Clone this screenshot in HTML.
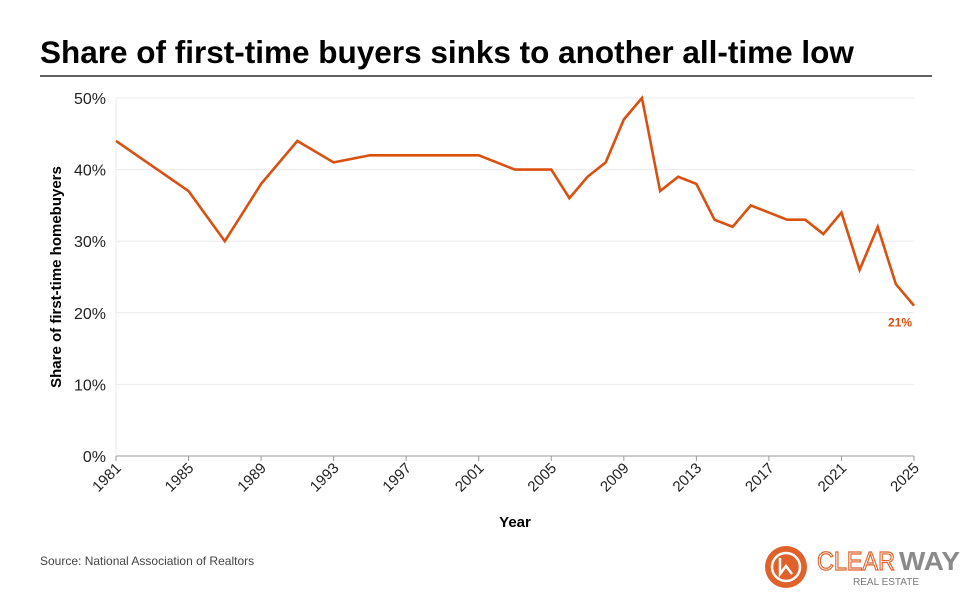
<!DOCTYPE html>
<html><head><meta charset="utf-8"><style>
body{margin:0;background:#fff;font-family:"Liberation Sans",Arial,sans-serif;}
#wrap{position:relative;width:972px;height:595px;overflow:hidden;}
</style></head><body>
<div id="wrap">
<svg id="chart" width="972" height="595" xmlns="http://www.w3.org/2000/svg">
<text x="40" y="63" font-size="31.5" font-weight="bold" fill="#000">Share of first-time buyers sinks to another all-time low</text>
<line x1="40" y1="76" x2="932" y2="76" stroke="#000" stroke-width="1.2"/>
<g id="grid"></g><g id="xaxis"></g><g id="series"></g>
<text transform="translate(61,277) rotate(-90)" text-anchor="middle" font-size="15" font-weight="bold">Share of first-time homebuyers</text>
<text x="515" y="527" text-anchor="middle" font-size="15" font-weight="bold">Year</text>
<text x="40" y="565" font-size="12" fill="#444">Source: National Association of Realtors</text>
<g>
<circle cx="786" cy="567" r="21" fill="#e0622a"/>
<circle cx="786" cy="567" r="14" fill="none" stroke="#fff" stroke-width="2.5"/>
<path d="M780 558 L780 574 L786 566 L792 574" fill="none" stroke="#fff" stroke-width="2.5"/>
<text x="817" y="570" font-size="26" fill="none" stroke="#e0622a" stroke-width="1.2" textLength="78" lengthAdjust="spacingAndGlyphs">CLEAR</text>
<text x="899" y="570" font-size="26" font-weight="bold" fill="#8a8a8a" textLength="61" lengthAdjust="spacingAndGlyphs">WAY</text>
<text x="853" y="585" font-size="10" fill="#777" textLength="66" lengthAdjust="spacing">REAL ESTATE</text>
</g>
</svg>
</div>
<script>
const years=[1981,1985,1987,1989,1991,1993,1995,1997,1999,2001,2003,2005,2006,2007,2008,2009,2010,2011,2012,2013,2014,2015,2016,2017,2018,2019,2020,2021,2022,2023,2024,2025];
const shares=[44,37,30,38,44,41,42,42,42,42,40,40,36,39,41,47,50,37,39,38,33,32,35,34,33,33,31,34,26,32,24,21];
const yTicks=[0,10,20,30,40,50];
const xTicks=[1981,1985,1989,1993,1997,2001,2005,2009,2013,2017,2021,2025];
const NS="http://www.w3.org/2000/svg";
const x=v=>116+(v-1981)*(914-116)/44;
const y=v=>456-v*(456-98)/50;
function mk(tag,attrs,parent){const e=document.createElementNS(NS,tag);for(const k in attrs)e.setAttribute(k,attrs[k]);parent.appendChild(e);return e;}
const grid=document.getElementById('grid'),xa=document.getElementById('xaxis'),se=document.getElementById('series');
yTicks.forEach(t=>{
 const l=mk('line',{x1:116,x2:914,y1:y(t),y2:y(t),stroke:t===0?'#999':'#ebebeb','stroke-width':1},grid);
 
 
 const tx=mk('text',{x:106,y:y(t)+6,'text-anchor':'end','font-size':16,fill:'#222'},grid);
 tx.textContent=t+'%';
 
 
});
const vl=mk('line',{x1:116,x2:116,y1:98,y2:456,stroke:'#ebebeb'},grid);


xTicks.forEach(t=>{
 const tk=mk('line',{x1:x(t),x2:x(t),y1:456,y2:461,stroke:'#999'},xa);
 
 
 const tx=mk('text',{x:x(t)+6,y:469,'text-anchor':'end','font-size':15,fill:'#222',transform:`rotate(-45 ${x(t)+6} 469)`},xa);
 tx.textContent=t;
 
 
});
const p=mk('polyline',{points:years.map((yr,i)=>x(yr)+','+y(shares[i])).join(' '),fill:'none',stroke:'#d9500f','stroke-width':2.6,'stroke-linejoin':'miter'},se);


const li=years.length-1;
const lab=mk('text',{x:x(years[li])-2,y:y(shares[li])+21,'text-anchor':'end','font-size':12,'font-weight':'bold',fill:'#d9500f'},se);
lab.textContent=shares[li]+'%';


</script>
</body></html>
